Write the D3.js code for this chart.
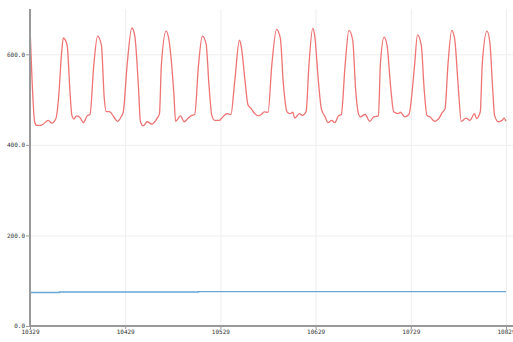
<!DOCTYPE html>
<html>
<head>
<meta charset="utf-8">
<script src="https://cdn.jsdelivr.net/npm/d3@7"></script>
<style>
	body { margin: 0; background: #fff; overflow: hidden; }
	.axis text { font-family: "DejaVu Sans Mono", monospace; font-size: 6px; fill: #333; }
	.axis path, .axis line { stroke: #999; }
	.grid line { stroke: #eee; stroke-width: 1; }
	.grid path { display: none; }
</style>
</head>
<body>
<div id="chartDiv"></div>
<script>
// sample numbers and values
var redSamples = [10329, 10334, 10336, 10340, 10343, 10348, 10352, 10356, 10359, 10362, 10364, 10368, 10371, 10373, 10375, 10378, 10382, 10385, 10389, 10392,
	10396, 10400, 10404, 10407, 10409, 10413, 10417, 10421, 10425, 10427, 10431, 10436, 10439, 10443, 10445, 10448, 10452, 10457, 10462, 10465,
	10467, 10472, 10475, 10480, 10482, 10487, 10491, 10495, 10499, 10502, 10506, 10510, 10514, 10517, 10520, 10523, 10528, 10530, 10536, 10540,
	10544, 10549, 10551, 10555, 10558, 10561, 10565, 10569, 10572, 10575, 10579, 10583, 10588, 10592, 10595, 10599, 10602, 10605, 10607, 10612,
	10615, 10619, 10622, 10626, 10628, 10632, 10635, 10639, 10642, 10646, 10649, 10653, 10656, 10660, 10664, 10668, 10671, 10674, 10676, 10681,
	10686, 10690, 10695, 10697, 10701, 10704, 10708, 10711, 10716, 10718, 10723, 10727, 10733, 10736, 10740, 10743, 10746, 10749, 10754, 10758,
	10762, 10765, 10768, 10772, 10775, 10779, 10782, 10787, 10791, 10796, 10798, 10802, 10804, 10809, 10812, 10815, 10817, 10821, 10825, 10827, 10829];
var redValues = [664, 450, 443, 443, 446, 454, 448, 457, 503, 598, 636, 620, 517, 465, 457, 464, 459, 449, 464, 467,
	576, 640, 620, 503, 474, 473, 462, 452, 463, 473, 576, 658, 642, 525, 451, 442, 451, 446, 457, 469,
	576, 651, 631, 517, 452, 464, 451, 459, 465, 467, 576, 640, 623, 532, 465, 454, 454, 458, 469, 467,
	539, 631, 616, 539, 488, 481, 469, 464, 467, 473, 472, 576, 655, 635, 539, 473, 469, 472, 459, 469,
	465, 473, 576, 657, 642, 539, 480, 462, 449, 454, 449, 464, 467, 576, 653, 631, 524, 469, 462, 467,
	452, 462, 464, 576, 638, 620, 524, 473, 469, 472, 462, 467, 576, 643, 620, 524, 465, 462, 452, 457,
	471, 480, 576, 653, 635, 524, 452, 459, 454, 469, 458, 473, 576, 651, 627, 524, 465, 451, 454, 459, 452];

var blueSamples = [10329, 10360, 10360, 10506, 10506, 10829];
var blueValues = [74, 74, 75, 75, 76, 76];

var xTicks = [10329, 10429, 10529, 10629, 10729, 10829];
var yTicks = [0, 200, 400, 600];

var width = 513, height = 342;
var margin = {top: 9, right: 7, bottom: 16, left: 30};

var svg = d3.select("#chartDiv").append("svg")
	.attr("width", width)
	.attr("height", height);

var x = d3.scaleLinear().domain([10329, 10829]).range([margin.left, width - margin.right]);
var y = d3.scaleLinear().domain([0, 700]).range([height - margin.bottom, margin.top]);

// grid
svg.append("g").attr("class", "grid")
	.attr("transform", "translate(0," + (height - margin.bottom) + ")")
	.call(d3.axisBottom(x).tickValues(xTicks).tickSize(-(height - margin.bottom - margin.top)).tickFormat(""));
svg.append("g").attr("class", "grid")
	.attr("transform", "translate(" + margin.left + ",0)")
	.call(d3.axisLeft(y).tickValues(yTicks).tickSize(-(width - margin.left)).tickFormat(""));

function makeLine(xs, ys, curve) {
	return d3.line()
		.x(function(d, i) { return x(xs[i]); })
		.y(function(d, i) { return y(ys[i]); })
		.curve(curve)(ys);
}

svg.append("path")
	.attr("d", makeLine(blueSamples, blueValues, d3.curveLinear))
	.attr("fill", "none")
	.attr("stroke", "#6aa6d8")
	.attr("stroke-width", 1.4);

svg.append("path")
	.attr("d", makeLine(redSamples, redValues, d3.curveMonotoneX))
	.attr("fill", "none")
	.attr("stroke", "#ef7474")
	.attr("stroke-width", 1.3)
	.attr("stroke-linejoin", "round");

// axes
var xAxis = svg.append("g").attr("class", "axis")
	.attr("transform", "translate(0," + (height - margin.bottom) + ")")
	.call(d3.axisBottom(x).tickValues(xTicks).tickSize(3).tickPadding(1).tickFormat(d3.format("d")));
xAxis.select(".domain").attr("d", "M" + margin.left + ",0H" + width).attr("stroke-width", 2);

var yAxis = svg.append("g").attr("class", "axis")
	.attr("transform", "translate(" + margin.left + ",0)")
	.call(d3.axisLeft(y).tickValues(yTicks).tickSize(4).tickPadding(1).tickFormat(d3.format(".1f")));
yAxis.select(".domain").attr("d", "M0," + margin.top + "V" + (height - margin.bottom)).attr("stroke-width", 2);
</script>
</body>
</html>
